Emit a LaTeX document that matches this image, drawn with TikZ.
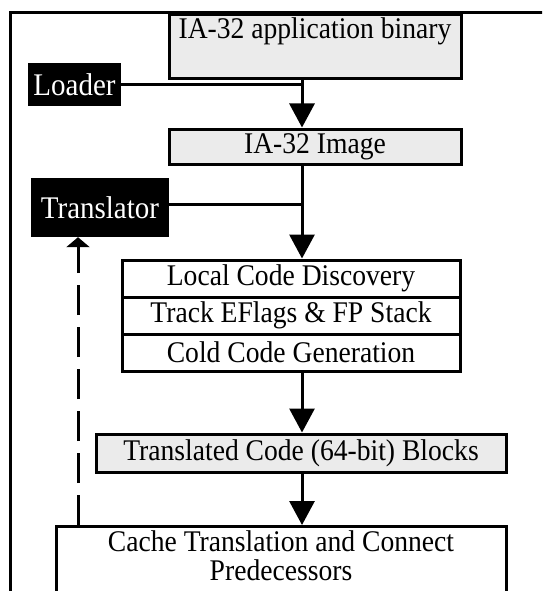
\documentclass[tikz,border=0pt]{standalone}
\usepackage{fontspec}
\setmainfont[FakeStretch=0.92]{Liberation Serif}
\usetikzlibrary{arrows.meta}

\tikzset{
	box/.style={draw, line width=3pt, inner sep=0pt, align=center, font=\fontsize{30}{29}\selectfont},
	shaded/.style={box, fill=gray!16},
	tool/.style={fill=black, text=white, inner sep=0pt, font=\fontsize{31.5}{29}\selectfont},
	link/.style={line width=3pt},
	flow/.style={link, -{Triangle[length=24pt,width=25pt]}},
	back/.style={link, dash pattern=on 30pt off 12pt, -{Triangle[length=10pt,width=23pt]}}
}

\begin{document}
\begin{tikzpicture}[x=1pt,y=-1pt]
	\clip (0,0) rectangle (542,591);

	% Draw the frame
	\draw [link] (10,600) -- (10,13) -- (560,13);

	% Draw the boxes
	\node [shaded, anchor=north, minimum width=292, minimum height=64] (app) at (315,13) {IA-32 application binary\\\strut};
	\node [shaded, minimum width=292, minimum height=35] (img) at (315,146.5) {IA-32 Image};
	\node [box, fill=white, minimum width=338, minimum height=37] (disc) at (291,278.5) {Local Code Discovery};
	\node [box, fill=white, minimum width=338, minimum height=37] (flags) at (291,315.5) {Track EFlags \& FP Stack};
	\node [box, fill=white, minimum width=338, minimum height=37] (cold) at (291,352.5) {Cold Code Generation};
	\node [shaded, minimum width=410, minimum height=38] (blocks) at (301,453) {Translated Code (64-bit) Blocks};
	\node [box, fill=white, anchor=north, minimum width=450, minimum height=96] (cache) at (281,525) {Cache Translation and Connect\\Predecessors\\\strut};

	% Draw the tools
	\node [tool, minimum width=93, minimum height=43] (loader) at (74.5,84.5) {Loader};
	\node [tool, minimum width=138, minimum height=59] (translator) at (100,207.5) {Translator};

	% Draw the flow
	\coordinate (spine) at (302,0);
	\draw [link] (loader.east) -- (loader.east -| spine);
	\draw [link] (translator.east |- 0,204) -- (spine |- 0,204);
	\draw [flow] (app.south -| spine) -- (img.north -| spine);
	\draw [flow] (img.south -| spine) -- (disc.north -| spine);
	\draw [flow] (cold.south -| spine) -- (blocks.north -| spine);
	\draw [flow] (blocks.south -| spine) -- (cache.north -| spine);

	% Draw the way back
	\draw [back] (cache.north -| 78,0) -- (translator.south -| 78,0);
\end{tikzpicture}
\end{document}
